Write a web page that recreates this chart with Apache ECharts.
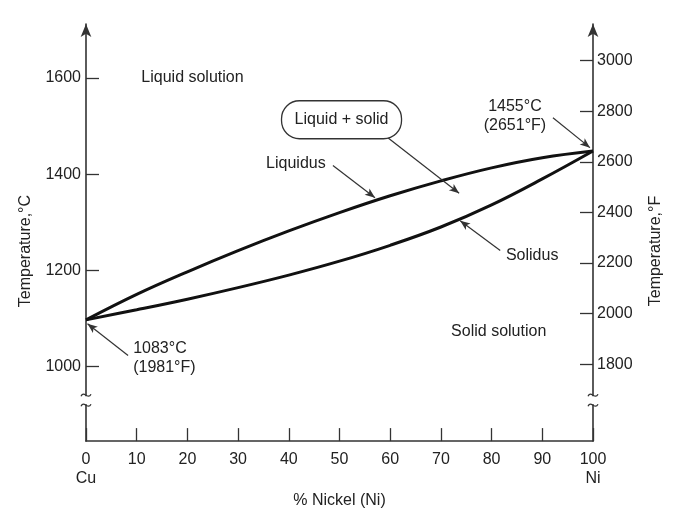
<!DOCTYPE html>
<html><head><meta charset="utf-8">
<script src="https://cdn.jsdelivr.net/npm/echarts@6/dist/echarts.min.js"></script>
<style>html,body{margin:0;padding:0;background:#fff}#c{width:678px;height:514px}</style>
</head><body><div id="c"></div>
<script>
// ---- data ----
const nickelPct = [0, 10, 20, 30, 40, 50, 60, 70, 80, 90, 100];
const liquidusC = [1097, 1150, 1197, 1241, 1282, 1320, 1355, 1386, 1413, 1434, 1448];
const solidusC  = [1097, 1118, 1140, 1164, 1190, 1219, 1252, 1290, 1336, 1390, 1448];
const xTickValues = [0, 10, 20, 30, 40, 50, 60, 70, 80, 90, 100];
const xEndNames = {0: 'Cu', 100: 'Ni'};
const celsiusTicks = [1000, 1200, 1400, 1600];
const fahrenheitTicks = [1800, 2000, 2200, 2400, 2600, 2800, 3000];
const celsiusRange = [845, 1712];
const fahrenheitRange = [1497, 3144];
const axisBreakC = 930;
// annotation texts (data coords: % Ni, °C)
const annoTexts = ['Liquid solution', 'Liquidus', 'Solidus', 'Solid solution', '1455°C\n(2651°F)', '1083°C\n(1981°F)'];
const annoPos = [[21, 1600], [41.4, 1422], [88.0, 1230], [81.4, 1072], [84.6, 1521], [9.3, 1017]];
const annoAlign = ['center', 'center', 'center', 'center', 'center', 'left'];
const boxText = 'Liquid + solid';
const boxPos = [50.4, 1513];
// arrows: [from, to]
const arrowFrom = [[8.3, 1023], [92.1, 1517], [59.6, 1475], [48.7, 1418], [81.7, 1241]];
const arrowTo   = [[0.3, 1089], [99.4, 1455], [73.6, 1360], [57.0, 1351], [73.8, 1303]];

const FONT = '"Liberation Sans", Arial, Helvetica, sans-serif';
const FS = 16;
const TXT = '#222';
const AX = '#333';

const chart = echarts.init(document.getElementById('c'), null, {renderer: 'canvas'});
const arrowData = arrowFrom.map((f, i) => [{coord: f}, {coord: arrowTo[i]}]);
const plain = v => String(v);

chart.setOption({
  animation: false,
  backgroundColor: '#fff',
  grid: {left: 86, right: 85, top: 24, bottom: 71},
  xAxis: {
    type: 'value', min: 0, max: 100, interval: 10,
    axisLine: {lineStyle: {color: AX, width: 1.6}},
    axisTick: {inside: true, length: 13, lineStyle: {color: AX, width: 1.3}},
    splitLine: {show: false},
    axisLabel: {
      margin: 9, color: TXT, fontFamily: FONT, fontSize: FS, lineHeight: 19,
      formatter: v => xEndNames[v] ? v + '\n' + xEndNames[v] : String(v)
    },
    name: '% Nickel (Ni)', nameLocation: 'middle', nameGap: 43,
    nameTextStyle: {color: TXT, fontFamily: FONT, fontSize: FS}
  },
  yAxis: [{
    type: 'value', min: celsiusRange[0], max: celsiusRange[1], position: 'left',
    axisLine: {show: true, symbol: ['none', 'arrow'], symbolSize: [8, 13], lineStyle: {color: AX, width: 1.6}},
    axisTick: {inside: true, length: 13, customValues: celsiusTicks, lineStyle: {color: AX, width: 1.3}},
    axisLabel: {customValues: celsiusTicks, formatter: plain, margin: 5, color: TXT, fontFamily: FONT, fontSize: FS},
    splitLine: {show: false},
    name: 'Temperature,°C', nameLocation: 'middle', nameRotate: 90, nameGap: 52,
    nameTextStyle: {color: TXT, fontFamily: FONT, fontSize: FS, padding: [0, 37, 0, 0]}
  }, {
    type: 'value', min: fahrenheitRange[0], max: fahrenheitRange[1], position: 'right',
    axisLine: {show: true, symbol: ['none', 'arrow'], symbolSize: [8, 13], lineStyle: {color: AX, width: 1.6}},
    axisTick: {inside: true, length: 13, customValues: fahrenheitTicks, lineStyle: {color: AX, width: 1.3}},
    axisLabel: {customValues: fahrenheitTicks, formatter: plain, margin: 4, color: TXT, fontFamily: FONT, fontSize: FS},
    splitLine: {show: false},
    name: 'Temperature,°F', nameLocation: 'middle', nameRotate: 90, nameGap: 55,
    nameTextStyle: {color: TXT, fontFamily: FONT, fontSize: FS, padding: [0, 37, 0, 0]}
  }],
  series: [{
    name: 'Liquidus', type: 'line', smooth: 0.4, symbol: 'none', yAxisIndex: 0,
    data: nickelPct.map((x, i) => [x, liquidusC[i]]),
    lineStyle: {color: '#111', width: 3},
    silent: true,
    markLine: {
      silent: true, symbol: ['none', 'arrow'], symbolSize: [6, 10],
      label: {show: false},
      lineStyle: {color: AX, width: 1.2, type: 'solid'},
      emphasis: {disabled: true},
      data: arrowData
    }
  }, {
    name: 'Solidus', type: 'line', smooth: 0.4, symbol: 'none', yAxisIndex: 0,
    data: nickelPct.map((x, i) => [x, solidusC[i]]),
    lineStyle: {color: '#111', width: 3},
    silent: true
  }]
});

function px(p) { return chart.convertToPixel({xAxisIndex: 0, yAxisIndex: 0}, p); }
const graphics = [];
annoTexts.forEach((t, i) => {
  const [x, y] = px(annoPos[i]);
  graphics.push({type: 'text', x, y, silent: true, z: 100,
    style: {text: t, align: annoAlign[i], verticalAlign: 'middle', fill: TXT, font: FS + 'px ' + FONT, lineHeight: 19}});
});
{
  const [x, y] = px(boxPos);
  graphics.push({type: 'rect', x: x - 60, y: y - 19, silent: true, z: 99,
    shape: {width: 120, height: 38, r: 18}, style: {fill: '#fff', stroke: AX, lineWidth: 1.3}});
  graphics.push({type: 'text', x, y, silent: true, z: 100,
    style: {text: boxText, align: 'center', verticalAlign: 'middle', fill: TXT, font: FS + 'px ' + FONT}});
}
// axis break marks on both vertical axes
const yb = chart.convertToPixel({yAxisIndex: 0}, axisBreakC);
const xl = chart.convertToPixel({xAxisIndex: 0}, 0);
const xr = chart.convertToPixel({xAxisIndex: 0}, 100);
[xl, xr].forEach(ax => {
  graphics.push({type: 'rect', x: ax - 4, y: yb - 4, shape: {width: 8, height: 8}, style: {fill: '#fff'}, silent: true, z: 100});
  [-5, 5].forEach(d => {
    graphics.push({type: 'bezierCurve', silent: true, z: 101,
      shape: {x1: ax - 5, y1: yb + d + 1, cpx1: ax - 2, cpy1: yb + d - 5, cpx2: ax + 2, cpy2: yb + d + 5, x2: ax + 5, y2: yb + d - 1},
      style: {stroke: AX, lineWidth: 1.3, fill: null}});
  });
});
chart.setOption({graphic: {elements: graphics}});
</script>
</body></html>
